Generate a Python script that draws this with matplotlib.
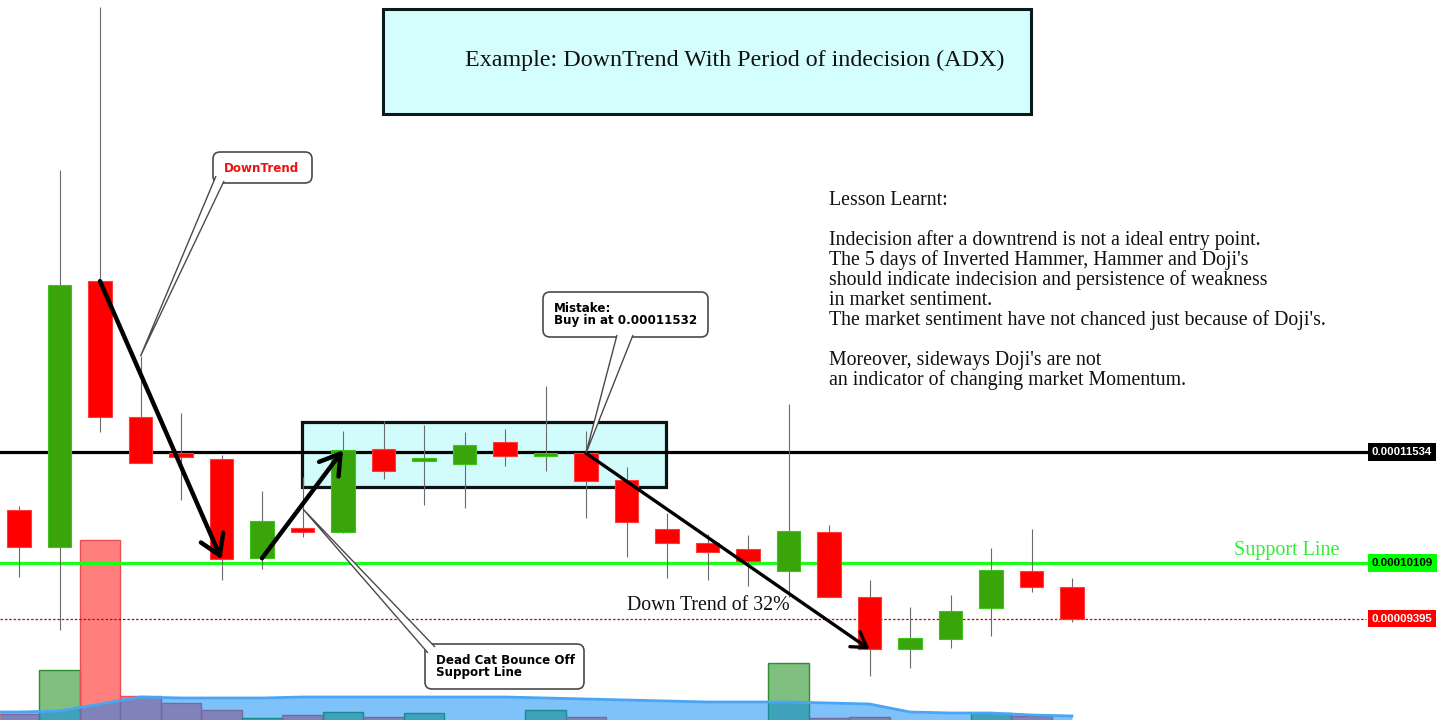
import numpy as np
import matplotlib
matplotlib.use("Agg")
import matplotlib.pyplot as plt
from matplotlib.patches import Rectangle, FancyBboxPatch, FancyArrowPatch, PathPatch
from matplotlib.path import Path
from matplotlib.transforms import Affine2D

W, H = 1437, 720

# daily candles, prices in 1e-8 units (satoshi)
opens = [10787, 10312, 13724, 11980, 11518, 11441, 10171, 10556, 10504, 11569, 11415, 11377, 11659, 11479,
         11518, 11172, 10543, 10363, 10286, 10004, 10504, 9671, 9004, 9132, 9530, 10004, 9799]
highs = [10838, 15148, 17239, 12762, 12031, 11492, 11030, 11210, 11800, 11928, 11877, 11787, 11826, 12377,
         11800, 11338, 10748, 10479, 10466, 12146, 10594, 9889, 9542, 9696, 10299, 10543, 9914]
lows = [9927, 9247, 11787, 11390, 10915, 9889, 10030, 10440, 10492, 11184, 10851, 10812, 11351, 11287,
        10684, 10184, 9914, 9889, 9812, 9671, 9671, 8657, 8760, 9016, 9170, 9735, 9350]
closes = [10312, 13673, 11980, 11390, 11467, 10158, 10646, 10504, 11556, 11287, 11454, 11621, 11479, 11518,
          11159, 10633, 10363, 10248, 10132, 10517, 9671, 9004, 9145, 9491, 10017, 9799, 9388]

# volume and its moving average (arbitrary units)
volume = [26, 70, 200, 44, 37, 30, 22, 25, 28, 23, 27, 12, 15, 30, 23, 14, 10, 8, 12, 77, 22, 23, 10, 12, 27, 24, 15]
vol_ma = [28, 29, 36, 43, 42, 42, 42, 43, 43, 43, 43, 43, 43, 42, 41, 40, 39, 38, 38, 38, 37, 36, 28, 27, 27, 25, 24]

# horizontal levels: resistance / support / last price
levels = [11534, 10109, 9395]
level_colors = ["#000000", "#1aff1a", "#d00000"]
label_bg = ["#000000", "#00ff00", "#ff0000"]
label_fg = ["white", "black", "white"]

lesson = ["Lesson Learnt:",
          "",
          "Indecision after a downtrend is not a ideal entry point.",
          "The 5 days of Inverted Hammer, Hammer and Doji's",
          "should indicate indecision and persistence of weakness",
          "in market sentiment.",
          "The market sentiment have not chanced just because of Doji's.",
          "",
          "Moreover, sideways Doji's are not",
          "an indicator of changing market Momentum."]

GREEN = "#39a50b"
RED = "#ff0000"
SERIF = "Liberation Serif"

idx = np.arange(len(opens))
o = np.array(opens); c = np.array(closes)
up = c >= o

fig = plt.figure(figsize=(W / 100, H / 100), dpi=100)
fig.patch.set_facecolor("white")
ax = fig.add_axes([0, 0, 1, 1])
x0 = -19 / 40.5
ax.set_xlim(x0, (W - 19) / 40.5)
ax.set_ylim(8097, 17329)
ax.axis("off")

# pixel coordinates (origin top-left) for annotation layout
px = Affine2D().scale(1 / W, -1 / H).translate(0, 1) + ax.transAxes

# volume panel underneath
ax2 = ax.twinx()
ax2.set_ylim(20, 740)
ax2.axis("off")
ax.set_zorder(2)
ax.patch.set_visible(False)
vcol = [(0, 0.5, 0, 0.5) if u else (1, 0, 0, 0.5) for u in up]
vedge = ["#2f8f2f" if u else "#e85050" for u in up]
ax2.bar(idx, volume, width=1.0, color=vcol, edgecolor=vedge, linewidth=1)
xs = np.r_[x0, idx]
ma = np.r_[vol_ma[0], vol_ma]
ax2.fill_between(xs, 0, ma, color=(0, 0.53, 0.96, 0.5), lw=0)
ax2.plot(xs, ma, color="#4aa6f2", lw=2.0)

# indecision zone box
ax.add_patch(Rectangle((302, 422), 364, 65, transform=px, fc="#d2fcfc", ec="#0b1414", lw=2.3, zorder=1))

# level lines + price tags
for lv, lc, bg, fg in zip(levels, level_colors, label_bg, label_fg):
    if lc == "#d00000":
        ax.axhline(lv, xmin=0, xmax=1366 / W, color=lc, lw=0.9, ls=(0, (2, 1.5)), zorder=2)
    else:
        ax.axhline(lv, xmin=0, xmax=1366 / W, color=lc, lw=2.3, zorder=2)
    ax.text(1372 / W, lv, f"{lv / 1e8:.8f}", transform=ax.get_yaxis_transform(),
            ha="left", va="center", fontsize=8.2, fontweight="bold", family="Liberation Sans", color=fg,
            bbox=dict(boxstyle="square,pad=0.32", fc=bg, ec="none"), zorder=4)

# candles
ax.vlines(idx, lows, highs, color="#6b6b6b", lw=0.8, zorder=3)
body_lo = np.minimum(o, c)
body_h = np.maximum(np.abs(c - o), 30)
ax.bar(idx, body_h, bottom=body_lo, width=0.59, color=[GREEN if u else RED for u in up],
       edgecolor=["#3fc21a" if u else "#ff3a3a" for u in up], linewidth=0.8, zorder=3.5)

# trend arrows
arrows = [((2, opens[2]), (5, closes[5]), 3.2, 35),
          ((6, opens[6]), (8, closes[8]), 3.2, 35),
          ((14, opens[14]), (21, closes[21]), 2.4, 26)]
for a, b, lw, ms in arrows:
    ax.add_patch(FancyArrowPatch(a, b, arrowstyle="->,head_length=0.4,head_width=0.25", mutation_scale=ms,
                                 lw=lw, color="black", shrinkA=0, shrinkB=0, zorder=6))


def to_px(pt):
    return px.inverted().transform(ax.transData.transform(pt))


def callout(box, base, tip, lines, color, tx, baselines):
    bx0, by0, bx1, by1 = box
    ax.add_patch(FancyBboxPatch((bx0, by0), bx1 - bx0, by1 - by0, boxstyle="round,pad=0,rounding_size=7",
                                transform=px, fc="white", ec="#4a4a4a", lw=1.2, zorder=7))
    path = Path([base[0], tip, base[1]])
    ax.add_patch(PathPatch(path, transform=px, fc="white", ec="#4a4a4a", lw=1.0, zorder=8))
    for s, yb in zip(lines, baselines):
        ax.text(tx, yb, s, transform=px, ha="left", va="baseline", fontsize=8.6, fontweight="bold",
                family="DejaVu Sans", color=color, zorder=9)


callout((213, 152, 312, 183), [(216, 176), (224, 181)], to_px((3, highs[3])), ["DownTrend"], "#ee1111", 224, [172])
callout((543, 292, 708, 337), [(617, 335), (633, 335)], to_px((14, opens[14])),
        ["Mistake:", "Buy in at 0.00011532"], "black", 554, [312, 324])
callout((425, 644, 584, 689), [(428, 653), (435, 647)], (303, 509),
        ["Dead Cat Bounce Off", "Support Line"], "black", 436, [664, 676])

# title box
ax.add_patch(Rectangle((383, 9), 648, 105, transform=px, fc="#d4fefe", ec="#0a1a1a", lw=2.2, zorder=7))
ax.text(735, 60, "Example: DownTrend With Period of indecision (ADX)", transform=px, ha="center", va="center",
        fontsize=17.3, family=SERIF, color="#111111", zorder=8)

# lesson text
for k, s in enumerate(lesson):
    ax.text(829, 205 + 20 * k, s, transform=px, ha="left", va="baseline", fontsize=14.3, family=SERIF,
            color="#111111", zorder=8)

ax.text(708, 606, "Down Trend of 32%", transform=px, ha="center", va="center", fontsize=14.3, family=SERIF,
        color="#111111", zorder=8)
ax.text(1234, 555, "Support Line", transform=px, ha="left", va="baseline", fontsize=14.5, family=SERIF,
        color="#33ee33", zorder=8)

fig.savefig("out.png", dpi=100)
